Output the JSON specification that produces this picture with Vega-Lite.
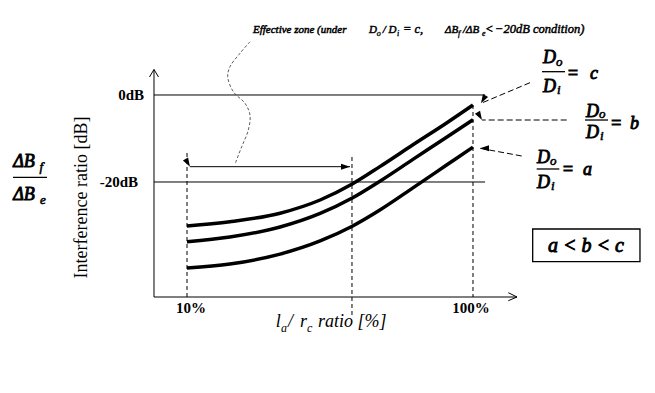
{
  "$schema": "https://vega.github.io/schema/vega-lite/v6.json",
  "width": 655,
  "height": 393,
  "autosize": {"type": "none"},
  "padding": 0,
  "background": "white",
  "config": {"view": {"stroke": null}, "font": "Liberation Serif"},
  "datasets": {
    "seg": [
      {"k": "solid", "x": -0.38, "y": -46.44, "x2": -0.38, "y2": 5.86},
      {"k": "solid", "x": -0.38, "y": -46.44, "x2": 113.85, "y2": -46.44},
      {"k": "solid", "x": -0.38, "y": 0, "x2": 103.8, "y2": 0},
      {"k": "solid", "x": -0.38, "y": -20, "x2": 103.8, "y2": -20},
      {"k": "solid", "x": 10.95, "y": -16.48, "x2": 61.3, "y2": -16.48},
      {"k": "dash", "x": 10.01, "y": -13.33, "x2": 10.01, "y2": -46.44},
      {"k": "dash", "x": 61.92, "y": -14.25, "x2": 61.92, "y2": -50.97},
      {"k": "dash", "x": 100, "y": -2.3, "x2": 100, "y2": -46.44},
      {"k": "lead", "x": 117.94, "y": 2.83, "x2": 102.52, "y2": -1.91},
      {"k": "lead", "x": 129.48, "y": -5.75, "x2": 102.83, "y2": -5.75},
      {"k": "lead", "x": 115.32, "y": -14.02, "x2": 102.2, "y2": -12.25},
      {"k": "bar", "x": 121.71, "y": 5.36, "x2": 128.95, "y2": 5.36},
      {"k": "bar", "x": 135.24, "y": -5.75, "x2": 142.48, "y2": -5.75},
      {"k": "bar", "x": 120.04, "y": -17.01, "x2": 127.16, "y2": -17.01},
      {"k": "bar", "x": -44.75, "y": -18.92, "x2": -34.05, "y2": -18.92}
    ],
    "curves": [
      {"s": "c", "x": 10, "y": -30.11}, {"s": "c", "x": 23.5, "y": -29.13}, {"s": "c", "x": 39.3, "y": -27.17},
      {"s": "c", "x": 51.9, "y": -24.14}, {"s": "c", "x": 62, "y": -20.46}, {"s": "c", "x": 70.7, "y": -16.46},
      {"s": "c", "x": 81.1, "y": -11.45}, {"s": "c", "x": 91.8, "y": -6.37}, {"s": "c", "x": 100, "y": -2.3},
      {"s": "b", "x": 10, "y": -33.72}, {"s": "b", "x": 23.5, "y": -32.64}, {"s": "b", "x": 39.3, "y": -30.34},
      {"s": "b", "x": 51.9, "y": -27.22}, {"s": "b", "x": 62, "y": -23.68}, {"s": "b", "x": 70.7, "y": -19.82},
      {"s": "b", "x": 81.1, "y": -14.8}, {"s": "b", "x": 91.8, "y": -9.66}, {"s": "b", "x": 100, "y": -5.7},
      {"s": "a", "x": 10, "y": -39.77}, {"s": "a", "x": 23.5, "y": -38.87}, {"s": "a", "x": 39.3, "y": -36.57},
      {"s": "a", "x": 51.9, "y": -33.54}, {"s": "a", "x": 62, "y": -30.16}, {"s": "a", "x": 70.7, "y": -26.44},
      {"s": "a", "x": 81.1, "y": -21.36}, {"s": "a", "x": 91.8, "y": -16.05}, {"s": "a", "x": 100, "y": -11.98}
    ],
    "chev": [
      {"g": "y", "i": 0, "x": -1.79, "y": 4.14}, {"g": "y", "i": 1, "x": -0.38, "y": 5.86}, {"g": "y", "i": 2, "x": 1.04, "y": 4.14},
      {"g": "x", "i": 0, "x": 111.11, "y": -45.45}, {"g": "x", "i": 1, "x": 113.85, "y": -46.44}, {"g": "x", "i": 2, "x": 111.11, "y": -47.29}
    ],
    "wave": [
      {"i": 0, "x": 29.83, "y": 12.25}, {"i": 1, "x": 26.68, "y": 9.59}, {"i": 2, "x": 23.54, "y": 6.51},
      {"i": 3, "x": 22.81, "y": 4.21}, {"i": 4, "x": 24.58, "y": 0.76}, {"i": 5, "x": 28.26, "y": -1.91},
      {"i": 6, "x": 29.83, "y": -4.6}, {"i": 7, "x": 29.3, "y": -8.05}, {"i": 8, "x": 27.22, "y": -11.89},
      {"i": 9, "x": 25.11, "y": -15.86}
    ],
    "heads": [
      {"d": "L", "x": 10.95, "y": -16.48},
      {"d": "R", "x": 61.3, "y": -16.48},
      {"d": "C", "x": 102.52, "y": -1.91},
      {"d": "L", "x": 102.83, "y": -5.75},
      {"d": "A", "x": 102.2, "y": -12.25}
    ],
    "box": [{"x": 118.78, "y": -30.8, "x2": 152.54, "y2": -38.32}],
    "lab": [
      {"k": "tickR", "t": "0dB", "x": -3.52, "y": -1.15},
      {"k": "tickR", "t": "-20dB", "x": -5.41, "y": -21.08},
      {"k": "tickC", "t": "10%", "x": 11.26, "y": -50.18},
      {"k": "tickC", "t": "100%", "x": 99.37, "y": -50.18},
      {"k": "yt", "t": "Interference ratio [dB]", "x": -21.46, "y": -23.56},
      {"k": "big", "t": "D", "x": 122.03, "y": 7.29},
      {"k": "big", "t": "D", "x": 122.03, "y": 0.76},
      {"k": "big", "t": "=", "x": 129.48, "y": 3.7},
      {"k": "big", "t": "c", "x": 136.82, "y": 3.7},
      {"k": "big", "t": "D", "x": 135.56, "y": -4.99},
      {"k": "big", "t": "D", "x": 135.56, "y": -9.95},
      {"k": "big", "t": "=", "x": 143.11, "y": -7.9},
      {"k": "big", "t": "b", "x": 149.4, "y": -7.9},
      {"k": "big", "t": "D", "x": 120.14, "y": -15.7},
      {"k": "big", "t": "D", "x": 120.14, "y": -21.45},
      {"k": "big", "t": "=", "x": 127.91, "y": -18.3},
      {"k": "big", "t": "a", "x": 134.61, "y": -18.3},
      {"k": "big", "t": "ΔB", "x": -44.65, "y": -16.48},
      {"k": "big", "t": "ΔB", "x": -44.65, "y": -24.14},
      {"k": "bigsub", "t": "o", "x": 126.12, "y": 6.78},
      {"k": "bigsub", "t": "i", "x": 126.43, "y": 0.23},
      {"k": "bigsub", "t": "o", "x": 139.65, "y": -5.29},
      {"k": "bigsub", "t": "i", "x": 139.96, "y": -10.34},
      {"k": "bigsub", "t": "o", "x": 124.23, "y": -16.09},
      {"k": "bigsub", "t": "i", "x": 124.54, "y": -21.84},
      {"k": "bigsub", "t": "f", "x": -36.41, "y": -17.47},
      {"k": "bigsub", "t": "e", "x": -36.25, "y": -25.06},
      {"k": "xt", "t": "l", "x": 37.92, "y": -53.33},
      {"k": "xt", "t": "/", "x": 41.79, "y": -53.33},
      {"k": "xt", "t": "r", "x": 45.56, "y": -53.33},
      {"k": "xt", "t": "ratio [%]", "x": 51.23, "y": -53.33},
      {"k": "xtsub", "t": "a", "x": 39.58, "y": -54.37},
      {"k": "xtsub", "t": "c", "x": 47.77, "y": -54.37},
      {"k": "top", "t": "Effective zone (under", "x": 30.77, "y": 14.18},
      {"k": "top", "t": "D", "x": 67.27, "y": 14.18},
      {"k": "top", "t": "/ D", "x": 71.59, "y": 14.18},
      {"k": "top", "t": "ΔB", "x": 91.19, "y": 14.18},
      {"k": "top", "t": "/ΔB", "x": 96.85, "y": 14.18},
      {"k": "topm", "t": "= c,", "x": 77.97, "y": 14.18},
      {"k": "topm", "t": "<", "x": 103.78, "y": 14.18},
      {"k": "topm", "t": "−20dB", "x": 106.93, "y": 14.18},
      {"k": "topm", "t": "condition)", "x": 118.9, "y": 14.18},
      {"k": "topsub", "t": "o", "x": 69.7, "y": 13.45},
      {"k": "topsub", "t": "i", "x": 76.09, "y": 13.45},
      {"k": "topsub", "t": "f", "x": 95.28, "y": 13.45},
      {"k": "topsub", "t": "e", "x": 102.83, "y": 13.45},
      {"k": "box", "t": "a < b < c", "x": 135.55, "y": -36.02}
    ]
  },
  "encoding": {
    "x": {"field": "x", "type": "quantitative", "scale": {"domain": [-48.836, 157.269], "nice": false, "zero": false}, "axis": null},
    "y": {"field": "y", "type": "quantitative", "scale": {"domain": [-68.506, 21.839], "nice": false, "zero": false}, "axis": null}
  },
  "layer": [
    {"data": {"name": "seg"}, "transform": [{"filter": "datum.k == 'solid'"}],
     "mark": {"type": "rule", "stroke": "black", "strokeWidth": 1},
     "encoding": {"x2": {"field": "x2"}, "y2": {"field": "y2"}}},
    {"data": {"name": "seg"}, "transform": [{"filter": "datum.k == 'dash'"}],
     "mark": {"type": "rule", "stroke": "black", "strokeWidth": 1, "strokeDash": [4, 3]},
     "encoding": {"x2": {"field": "x2"}, "y2": {"field": "y2"}}},
    {"data": {"name": "seg"}, "transform": [{"filter": "datum.k == 'lead'"}],
     "mark": {"type": "rule", "stroke": "black", "strokeWidth": 1, "strokeDash": [6, 3]},
     "encoding": {"x2": {"field": "x2"}, "y2": {"field": "y2"}}},
    {"data": {"name": "seg"}, "transform": [{"filter": "datum.k == 'bar'"}],
     "mark": {"type": "rule", "stroke": "black", "strokeWidth": 1.3},
     "encoding": {"x2": {"field": "x2"}, "y2": {"field": "y2"}}},
    {"data": {"name": "curves"},
     "mark": {"type": "line", "interpolate": "monotone", "stroke": "black", "strokeWidth": 3.5, "strokeCap": "butt"},
     "encoding": {"detail": {"field": "s"}}},
    {"data": {"name": "chev"},
     "mark": {"type": "line", "stroke": "black", "strokeWidth": 1},
     "encoding": {"detail": {"field": "g"}, "order": {"field": "i"}}},
    {"data": {"name": "wave"},
     "mark": {"type": "line", "interpolate": "catmull-rom", "stroke": "#333333", "strokeWidth": 0.8, "strokeDash": [3, 2]},
     "encoding": {"order": {"field": "i"}}},
    {"data": {"name": "heads"},
     "mark": {"type": "point", "shape": "M0,0L-1,-0.33L-1,0.33Z", "filled": true, "fill": "black", "opacity": 1, "size": 324},
     "encoding": {"angle": {"field": "d", "type": "nominal", "scale": {"domain": ["R", "L", "C", "A"], "range": [0, 180, 157.6, 190.5]}, "legend": null}}},
    {"data": {"name": "box"},
     "mark": {"type": "rect", "fill": null, "stroke": "black", "strokeWidth": 1.3},
     "encoding": {"x2": {"field": "x2"}, "y2": {"field": "y2"}}},
    {"data": {"name": "lab"}, "transform": [{"filter": "datum.k == 'tickR'"}],
     "mark": {"type": "text", "align": "right", "baseline": "alphabetic", "font": "Liberation Serif", "fontWeight": "bold", "fontSize": 15, "fill": "black"},
     "encoding": {"text": {"field": "t"}}},
    {"data": {"name": "lab"}, "transform": [{"filter": "datum.k == 'tickC'"}],
     "mark": {"type": "text", "align": "center", "baseline": "alphabetic", "font": "Liberation Serif", "fontWeight": "bold", "fontSize": 15, "fill": "black"},
     "encoding": {"text": {"field": "t"}}},
    {"data": {"name": "lab"}, "transform": [{"filter": "datum.k == 'yt'"}],
     "mark": {"type": "text", "align": "center", "baseline": "alphabetic", "angle": 270, "font": "Liberation Serif", "fontSize": 18, "fill": "black"},
     "encoding": {"text": {"field": "t"}}},
    {"data": {"name": "lab"}, "transform": [{"filter": "datum.k == 'big'"}],
     "mark": {"type": "text", "align": "left", "baseline": "alphabetic", "font": "Liberation Serif", "fontStyle": "italic", "fontSize": 18, "fill": "black", "stroke": "black", "strokeWidth": 0.9},
     "encoding": {"text": {"field": "t"}}},
    {"data": {"name": "lab"}, "transform": [{"filter": "datum.k == 'bigsub'"}],
     "mark": {"type": "text", "align": "left", "baseline": "alphabetic", "font": "Liberation Serif", "fontStyle": "italic", "fontSize": 13, "fill": "black", "stroke": "black", "strokeWidth": 0.6},
     "encoding": {"text": {"field": "t"}}},
    {"data": {"name": "lab"}, "transform": [{"filter": "datum.k == 'xt'"}],
     "mark": {"type": "text", "align": "left", "baseline": "alphabetic", "font": "Liberation Serif", "fontStyle": "italic", "fontSize": 18, "fill": "black"},
     "encoding": {"text": {"field": "t"}}},
    {"data": {"name": "lab"}, "transform": [{"filter": "datum.k == 'xtsub'"}],
     "mark": {"type": "text", "align": "left", "baseline": "alphabetic", "font": "Liberation Serif", "fontStyle": "italic", "fontSize": 12, "fill": "black"},
     "encoding": {"text": {"field": "t"}}},
    {"data": {"name": "lab"}, "transform": [{"filter": "datum.k == 'top'"}],
     "mark": {"type": "text", "align": "left", "baseline": "alphabetic", "font": "Liberation Serif", "fontStyle": "italic", "fontSize": 11, "fill": "black", "stroke": "black", "strokeWidth": 0.5},
     "encoding": {"text": {"field": "t"}}},
    {"data": {"name": "lab"}, "transform": [{"filter": "datum.k == 'topm'"}],
     "mark": {"type": "text", "align": "left", "baseline": "alphabetic", "font": "Liberation Serif", "fontStyle": "italic", "fontSize": 12.5, "fill": "black", "stroke": "black", "strokeWidth": 0.5},
     "encoding": {"text": {"field": "t"}}},
    {"data": {"name": "lab"}, "transform": [{"filter": "datum.k == 'topsub'"}],
     "mark": {"type": "text", "align": "left", "baseline": "alphabetic", "font": "Liberation Serif", "fontStyle": "italic", "fontSize": 8, "fill": "black", "stroke": "black", "strokeWidth": 0.35},
     "encoding": {"text": {"field": "t"}}},
    {"data": {"name": "lab"}, "transform": [{"filter": "datum.k == 'box'"}],
     "mark": {"type": "text", "align": "center", "baseline": "alphabetic", "font": "Liberation Serif", "fontStyle": "italic", "fontSize": 20, "fill": "black", "stroke": "black", "strokeWidth": 0.9},
     "encoding": {"text": {"field": "t"}}}
  ]
}
